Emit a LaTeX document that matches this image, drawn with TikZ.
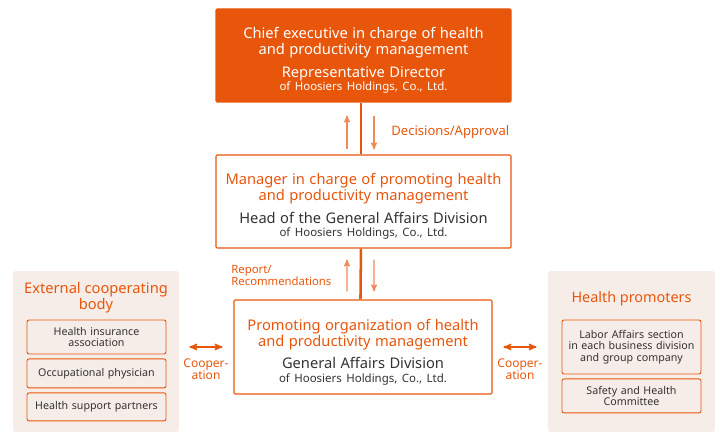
\documentclass[tikz,border=0pt]{standalone}
\usepackage{fontspec}
\setmainfont{Noto Sans}
\usetikzlibrary{arrows,positioning}

\definecolor{hporange}{HTML}{E8560C}
\definecolor{hplight}{HTML}{EE8A55}
\definecolor{hpbeige}{HTML}{F6EDE8}
\definecolor{hpgray}{HTML}{333333}

\newcommand{\bigtxt}{\fontsize{11}{12}\selectfont}
\newcommand{\smalltxt}{\fontsize{8.6}{10}\selectfont}

\begin{document}
\begin{tikzpicture}[x=0.75pt, y=-0.75pt, >=stealth', semithick,
    orgbox/.style={draw=hporange, line width=0.8pt, fill=white, inner sep=0pt, rounded corners=0.8pt,
                   text width=221.25pt, minimum height=69.75pt, align=center},
    panel/.style={fill=hpbeige, rounded corners=2pt, minimum width=124.5pt, minimum height=120.75pt},
    member/.style={draw=hporange, line width=0.7pt, fill=hpbeige, rounded corners=1.5pt, inner sep=0pt,
                   text width=104.25pt, align=center, text=hpgray, font=\fontsize{8}{8.5}\selectfont},
    link/.style={draw=hporange, line width=1.9pt},
    flow/.style={->, draw=hplight, line width=0.9pt},
    coop/.style={<->, draw=hporange, line width=1.1pt},
    note/.style={text=hporange, inner sep=0pt, font=\fontsize{9}{9}\selectfont}]

  \useasboundingbox (0,0) rectangle (726,442);

  % the three levels
  \node[orgbox, fill=hporange, text=white] (chief) at (363.5,55.5)
    {\par\vspace*{4pt}
     {\bigtxt Chief executive in charge of health\\and productivity management\par}
     \vspace{5pt}
     {\bigtxt Representative Director\par}
     {\smalltxt of Hoosiers Holdings, Co., Ltd.\par}};
  \node[orgbox] (manager) at (363.5,201.5)
    {\par\vspace*{4pt}
     {\bigtxt\color{hporange} Manager in charge of promoting health\\and productivity management\par}
     \vspace{5pt}
     {\bigtxt\color{hpgray} Head of the General Affairs Division\par}
     {\smalltxt\color{hpgray} of Hoosiers Holdings, Co., Ltd.\par}};
  \node[orgbox, text width=193.5pt, minimum height=70.5pt] (promo) at (363,347)
    {\par\vspace*{4pt}
     {\bigtxt\color{hporange} Promoting organization of health\\and productivity management\par}
     \vspace{5pt}
     {\bigtxt\color{hpgray} General Affairs Division\par}
     {\smalltxt\color{hpgray} of Hoosiers Holdings, Co., Ltd.\par}};

  % side panels
  \node[panel] (lpanel) at (96,351.5) {};
  \node[text=hporange, align=center, font=\fontsize{11}{10.5}\selectfont] (ltitle) at (96,297.5)
    {External cooperating\\body};
  \node[member, minimum height=25.5pt] (insur) at (96.5,337) {Health insurance\\association};
  \node[member, minimum height=21.75pt, below=3pt of insur] (phys) {Occupational physician};
  \node[member, minimum height=21pt, below=3pt of phys] (partner) {Health support partners};

  \node[panel, minimum width=125.25pt] (rpanel) at (631.5,351.5) {};
  \node[text=hporange, font=\fontsize{10.8}{10.5}\selectfont] (rtitle) at (631.5,299) {Health promoters};
  \node[member, minimum height=40.5pt] (labor) at (631.5,347)
    {Labor Affairs section\\in each business division\\and group company};
  \node[member, minimum height=25.5pt, below=3pt of labor] (safety) {Safety and Health\\Committee};

  % vertical links
  \draw[link] ([xshift=-1.9pt]chief.south) -- ([xshift=-1.9pt]manager.north);
  \draw[link] ([xshift=-1.9pt]manager.south) -- ([xshift=-1.9pt]promo.north);
  \draw[flow] ([xshift=-12.4pt,yshift=3.75pt]manager.north) -- ([xshift=-12.4pt,yshift=-9.75pt]chief.south);
  \draw[flow] ([xshift=7.9pt,yshift=-9.75pt]chief.south) -- ([xshift=7.9pt,yshift=3.75pt]manager.north);
  \draw[flow] ([xshift=-12pt,yshift=6pt]promo.north) -- ([xshift=-12.4pt,yshift=-8.25pt]manager.south);
  \draw[flow] ([xshift=7.9pt,yshift=-8.25pt]manager.south) -- ([xshift=8.3pt,yshift=6pt]promo.north);
  \node[note, anchor=west, font=\fontsize{9.8}{9.8}\selectfont] (decide) at (391,132) {Decisions/Approval};
  \node[note, anchor=west, align=left, font=\fontsize{8.5}{9}\selectfont] (report) at (231,276) {Report/\\Recommendations};

  % cooperation
  \draw[coop] ([xshift=7.5pt]promo.west -| lpanel.east) -- ([xshift=-8.25pt]promo.west);
  \draw[coop] ([xshift=8.25pt]promo.east) -- ([xshift=-8.25pt]promo.east -| rpanel.west);
  \node[note, align=center] (lcoop) at (206,369) {Cooper-\\ation};
  \node[note, align=center] (rcoop) at (520,369) {Cooper-\\ation};
\end{tikzpicture}
\end{document}
